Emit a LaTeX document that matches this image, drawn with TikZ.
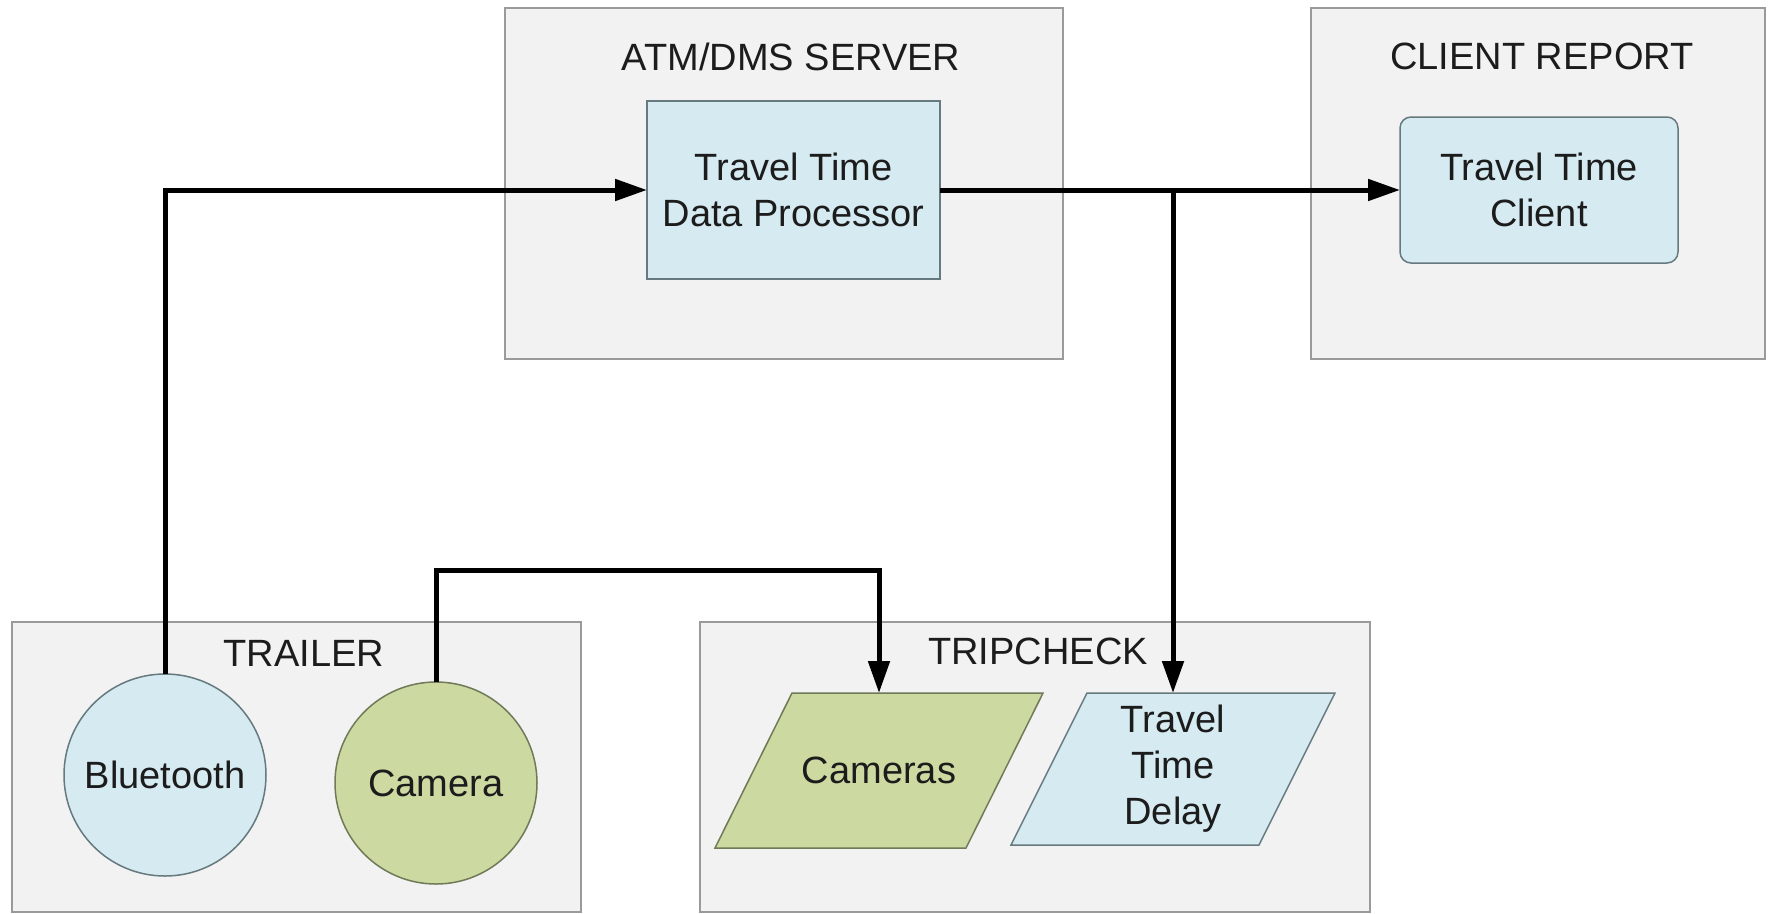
\documentclass[tikz,border=0pt]{standalone}
\usepackage{fontspec}
\setmainfont{Liberation Sans}
\usetikzlibrary{arrows.meta,calc}
\definecolor{contfill}{HTML}{F2F2F2}
\definecolor{contdraw}{HTML}{9A9A9A}
\definecolor{bluefill}{HTML}{D5EAF1}
\definecolor{bluedraw}{HTML}{66797E}
\definecolor{greenfill}{HTML}{CCD9A1}
\definecolor{greendraw}{HTML}{6F7A58}
\definecolor{txt}{HTML}{1C1C1C}
% parallelogram leaning right: #1 centre, #2 half width, #3 half height, #4 slant, #5 style
\newcommand\myparallelo[5]{%
  \draw[#5] ($(#1)+(-#2+#4,-#3)$) -- ($(#1)+(#2,-#3)$) -- ($(#1)+(#2-#4,#3)$) -- ($(#1)+(-#2,#3)$) -- cycle;}
\begin{document}
\begin{tikzpicture}[x=1pt,y=-1pt,
  every node/.style={font=\fontsize{38}{46}\selectfont, text=txt, inner sep=0pt, outer sep=0pt},
  container/.style={rectangle, draw=contdraw, fill=contfill, line width=1.8pt},
  title/.style={},
  bluebox/.style={draw=bluedraw, fill=bluefill, line width=1.5pt, align=center},
  greenbox/.style={draw=greendraw, fill=greenfill, line width=1.5pt, align=center},
  paratext/.style={align=center},
  conn/.style={line width=5pt, draw=black, -{Triangle[length=32pt,width=21pt]}}
]
\useasboundingbox (0,0) rectangle (1771,913);
% containers
\node[container, minimum width=558, minimum height=351] (atm) at (784,183.5) {};
\node[container, minimum width=454, minimum height=351] (crep) at (1538,183.5) {};
\node[container, minimum width=569, minimum height=290] (trl) at (296.5,767) {};
\node[container, minimum width=670, minimum height=290] (trip) at (1035,767) {};
% titles
\node[title] (atmt) at (791,57) {ATM/DMS SERVER};
\node[title] (crept) at (1542,56) {CLIENT REPORT};
\node[title] (trlt) at (304,653) {TRAILER};
\node[title] (tript) at (1038,651) {TRIPCHECK};
% inner nodes
\node[bluebox, rectangle, minimum width=293, minimum height=178] (dp) at (793.5,190) {Travel Time\\Data Processor};
\node[bluebox, rectangle, rounded corners=11pt, minimum width=278, minimum height=146] (cl) at (1539,190) {Travel Time\\Client};
\node[bluebox, circle, minimum size=202] (bt) at (165,775) {Bluetooth};
\node[greenbox, circle, minimum size=202] (cam) at (436,783) {Camera};
% parallelograms
\coordinate (camsc) at (879,770.5);
\coordinate (ttdc) at (1173,769);
\myparallelo{camsc}{164}{77.5}{77}{greenbox}
\myparallelo{ttdc}{162}{76}{76}{bluebox}
\node[paratext, minimum width=328, minimum height=155] (cams) at (camsc) {Cameras};
\node[paratext, minimum width=324, minimum height=152] (ttd) at (ttdc) {Travel\\Time\\Delay};
% connectors
\coordinate (j) at (1173,190);
\coordinate (camtop) at (660,570);
\draw[conn] (bt.north) |- (dp.west);
\draw[conn] (dp.east) -- (cl.west);
\draw[conn] (j) -- (ttd.north);
\draw[conn] (cam.north) |- (camtop) -| (cams.north);
\end{tikzpicture}
\end{document}
